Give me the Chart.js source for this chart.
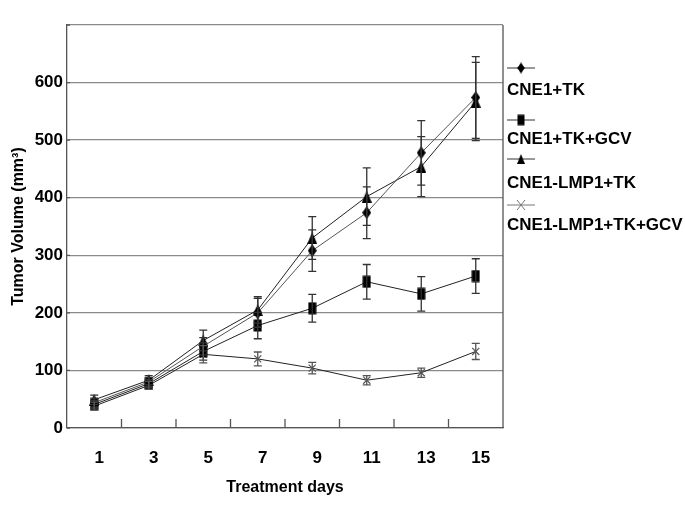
<!DOCTYPE html>
<html><head><meta charset="utf-8">
<script src="https://cdn.jsdelivr.net/npm/chart.js@4/dist/chart.umd.min.js"></script>
<style>html,body{margin:0;padding:0;background:#fff}#wrap{width:685px;height:513px;position:relative}</style>
</head><body><div id="wrap"><canvas id="c" width="685" height="513"></canvas></div>
<script>
// ---- data ----
const days = ['1','3','5','7','9','11','13','15'];
const seriesNames = ['CNE1+TK','CNE1+TK+GCV','CNE1-LMP1+TK','CNE1-LMP1+TK+GCV'];
const cne1Tk       = [44, 80, 142, 200, 308, 374, 478, 574];
const cne1TkErr    = [8, 8, 15, 25, 36, 45, 56, 71];
const cne1TkGcv    = [41, 77, 133, 178, 208, 254, 233, 264];
const cne1TkGcvErr = [7, 7, 15, 23, 24, 30, 30, 30];
const lmp1Tk       = [49, 83, 152, 205, 330, 402, 454, 567];
const lmp1TkErr    = [8, 8, 18, 23, 37, 50, 52, 68];
const lmp1TkGcv    = [38, 74, 128, 120, 104, 83, 96, 133];
const lmp1TkGcvErr = [7, 7, 15, 12, 10, 8, 8, 14];
const yMax = 700, yStep = 100;

const FONT = "'Liberation Sans', Arial, Helvetica, sans-serif";

function mk(w, h, draw) {
  const c = document.createElement('canvas'); c.width = w; c.height = h;
  const g = c.getContext('2d'); g.fillStyle = '#000'; draw(g, w, h); return c;
}
const diamondImg = mk(9, 13, (g, w, h) => { g.beginPath(); g.moveTo(w/2,0); g.lineTo(w,h/2); g.lineTo(w/2,h); g.lineTo(0,h/2); g.closePath(); g.fill(); });
const squareImg  = mk(9, 13, (g, w, h) => { g.fillRect(0.5,0.5,w-1,h-1); });
const triImg     = mk(10, 12, (g, w, h) => { g.beginPath(); g.moveTo(w/2,0); g.lineTo(w,h); g.lineTo(0,h); g.closePath(); g.fill(); });

const errs = [cne1TkErr, cne1TkGcvErr, lmp1TkErr, lmp1TkGcvErr];

const errorBars = {
  id: 'errorBars',
  afterDatasetsDraw(chart) {
    const ctx = chart.ctx, xs = chart.scales.x, ys = chart.scales.y;
    ctx.save();
    chart.data.datasets.forEach((ds, i) => {
      const e = errs[i];
      ds.data.forEach((v, j) => {
        const x = xs.getPixelForValue(j);
        const yt = ys.getPixelForValue(v + e[j]);
        const yb = ys.getPixelForValue(v - e[j]);
        ctx.strokeStyle = i === 3 ? '#555' : '#333';
        ctx.lineWidth = 1.3;
        ctx.beginPath();
        ctx.moveTo(x, yt); ctx.lineTo(x, yb);
        ctx.moveTo(x-4, yt); ctx.lineTo(x+4, yt);
        ctx.moveTo(x-4, yb); ctx.lineTo(x+4, yb);
        ctx.stroke();
      });
    });
    ctx.restore();
  }
};

const frame = {
  id: 'frame',
  afterDraw(chart) {
    const ctx = chart.ctx, a = chart.chartArea, xs = chart.scales.x, ys = chart.scales.y;
    ctx.save();
    ctx.strokeStyle = '#555'; ctx.lineWidth = 1.3;
    ctx.beginPath();
    ctx.moveTo(a.right, a.top); ctx.lineTo(a.right, a.bottom);
    const n = chart.data.labels.length;
    for (let i = 0; i < n; i++) {
      const b = (xs.getPixelForValue(i) + xs.getPixelForValue(i + 1)) / 2;
      ctx.moveTo(b, a.bottom); ctx.lineTo(b, a.bottom - 9);
    }
    for (let v = 0; v <= yMax; v += yStep) {
      const y = ys.getPixelForValue(v);
      ctx.moveTo(a.left, y); ctx.lineTo(a.left + 3, y);
    }
    ctx.stroke();
    ctx.restore();
  }
};

const sideLegend = {
  id: 'sideLegend',
  afterDraw(chart) {
    const ctx = chart.ctx, a = chart.chartArea;
    const x0 = a.right + 4;
    const sampleY = [68, 120, 159, 205];
    const textY = [90, 139, 183, 225];
    ctx.save();
    chart.data.datasets.forEach((ds, i) => {
      const y = sampleY[i];
      ctx.strokeStyle = i === 3 ? '#777' : '#333'; ctx.lineWidth = 1;
      ctx.beginPath(); ctx.moveTo(x0, y); ctx.lineTo(x0 + 28, y); ctx.stroke();
      const cx = x0 + 14;
      if (i === 3) {
        ctx.strokeStyle = '#777'; ctx.lineWidth = 1;
        ctx.beginPath(); ctx.moveTo(cx-4, y-5); ctx.lineTo(cx+4, y+5); ctx.moveTo(cx+4, y-5); ctx.lineTo(cx-4, y+5); ctx.stroke();
      } else {
        const img = [diamondImg, squareImg, triImg][i];
        const s = i === 2 ? 0.8 : 0.85;
        const w = img.width * s, h = img.height * s;
        ctx.drawImage(img, cx - w/2, y - h/2, w, h);
      }
      ctx.fillStyle = '#000';
      ctx.font = 'bold 17px ' + FONT;
      ctx.textBaseline = 'middle'; ctx.textAlign = 'left';
      ctx.fillText(ds.label, x0, textY[i]);
    });
    ctx.restore();
  }
};

new Chart(document.getElementById('c'), {
  type: 'line',
  data: {
    labels: days,
    datasets: [
      { label: seriesNames[0], data: cne1Tk, borderColor: '#555', borderWidth: 1, pointStyle: diamondImg, pointRadius: 5, tension: 0 },
      { label: seriesNames[1], data: cne1TkGcv, borderColor: '#222', borderWidth: 1, pointStyle: squareImg, pointRadius: 5, tension: 0 },
      { label: seriesNames[2], data: lmp1Tk, borderColor: '#222', borderWidth: 1, pointStyle: triImg, pointRadius: 5, tension: 0 },
      { label: seriesNames[3], data: lmp1TkGcv, borderColor: '#222', borderWidth: 1, pointStyle: 'crossRot', pointRadius: 5, pointBorderColor: '#555', pointBorderWidth: 1.2, tension: 0 }
    ]
  },
  options: {
    responsive: false,
    animation: false,
    devicePixelRatio: 1,
    layout: { padding: { top: 25, right: 182, bottom: 0, left: 0 } },
    plugins: { legend: { display: false }, tooltip: { enabled: false } },
    scales: {
      x: {
        offset: true,
        grid: { display: false, offset: true, drawTicks: false },
        border: { display: true, color: '#555', width: 1.3 },
        ticks: { color: '#000', font: { family: FONT, size: 17, weight: 'bold' }, padding: 20, labelOffset: 5, maxRotation: 0 },
        title: { display: true, text: 'Treatment days', color: '#000', font: { family: FONT, size: 16, weight: 'bold' }, padding: { top: 0, bottom: 16 } },
        afterFit(s) { s.height = 85; }
      },
      y: {
        min: 0, max: yMax,
        grid: { color: '#8a8a8a', lineWidth: 1.3, drawTicks: false },
        border: { display: true, color: '#555', width: 1.3 },
        ticks: { stepSize: yStep, color: '#000', font: { family: FONT, size: 17, weight: 'bold' }, padding: 4,
                 callback: (v) => v === yMax ? '' : v },
        title: { display: true, text: 'Tumor Volume (mm³)', color: '#000', font: { family: FONT, size: 16, weight: 'bold' }, padding: { top: 9, bottom: 0 } },
        afterFit(s) { s.width = 67; }
      }
    }
  },
  plugins: [errorBars, frame, sideLegend]
});
</script>
</body></html>
